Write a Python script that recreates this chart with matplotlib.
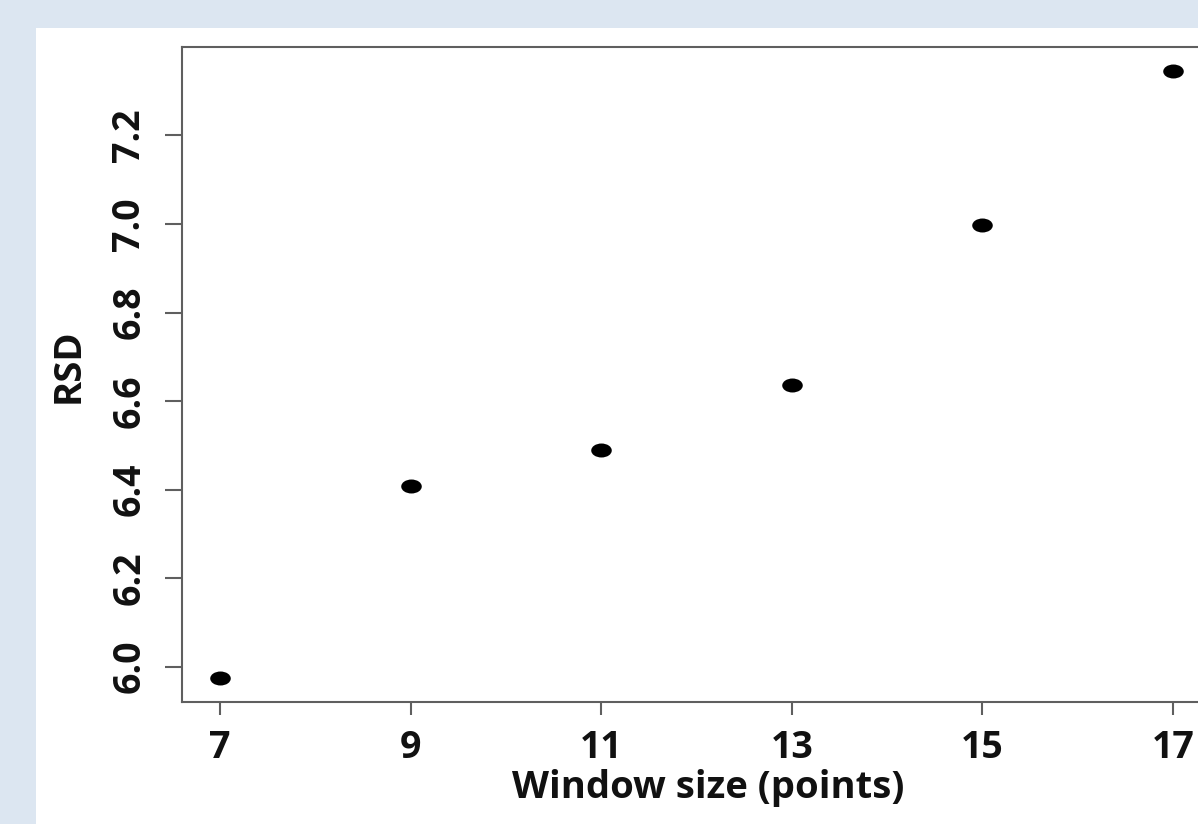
import numpy as np
import matplotlib
matplotlib.use("Agg")
import matplotlib.pyplot as plt
from matplotlib.path import Path
from matplotlib.patches import Rectangle
from matplotlib.transforms import Affine2D

window_size = [7, 9, 11, 13, 15, 17]
rsd = [5.975, 6.408, 6.489, 6.636, 6.998, 7.345]
x_ticks = [7, 9, 11, 13, 15, 17]
y_ticks = [6.0, 6.2, 6.4, 6.6, 6.8, 7.0, 7.2]
y_tick_labels = ["6.0", "6.2", "6.4", "6.6", "6.8", "7.0", "7.2"]

plt.rcParams['font.family'] = ['Open Sans', 'DejaVu Sans']
plt.rcParams['font.weight'] = 'bold'

W, H = 1198, 824
fig = plt.figure(figsize=(W / 100, H / 100), dpi=100, facecolor='#dce6f1')
fig.patches.append(Rectangle((36 / W, 0), 1, 1 - 28 / H, transform=fig.transFigure,
                             facecolor='white', edgecolor='none', zorder=-10))

left, right, top, bottom = 182, 1211, 47, 702
ax = fig.add_axes([left / W, 1 - bottom / H, (right - left) / W, (bottom - top) / H])
ax.set_facecolor('white')

ellipse = Path.unit_circle().transformed(Affine2D().scale(1.0, 0.68))
ax.plot(window_size, rsd, linestyle='none', marker=ellipse, markersize=14.8,
        color='black', markeredgewidth=0)

ax.set_xlim(6.6, 17.4)
ax.set_ylim(5.9202, 7.3998)
ax.set_xticks(x_ticks)
ax.set_xticklabels([str(v) for v in x_ticks])
ax.set_yticks(y_ticks)
ax.set_yticklabels(y_tick_labels, rotation=90, va='center')

for s in ax.spines.values():
    s.set_color('#5f5f5f')
    s.set_linewidth(1.5)

ax.tick_params(axis='x', length=9.4, width=1.5, color='#5f5f5f', pad=10,
               labelsize=27, labelcolor='#111111')
ax.tick_params(axis='y', length=12.2, width=1.5, color='#5f5f5f', pad=12,
               labelsize=27, labelcolor='#111111')

ax.set_xlabel('Window size (points)', fontsize=27.5, fontweight='bold', color='#111111')
ax.xaxis.label.set_va('baseline')
ax.xaxis.set_label_coords((708 - left) / (right - left), (bottom - 798) / (bottom - top))
ax.set_ylabel('RSD', fontsize=27.5, fontweight='bold', color='#111111')
ax.yaxis.set_label_coords((88 - left) / (right - left), (bottom - 366) / (bottom - top))

fig.savefig('out.png', dpi=100, facecolor=fig.get_facecolor())
